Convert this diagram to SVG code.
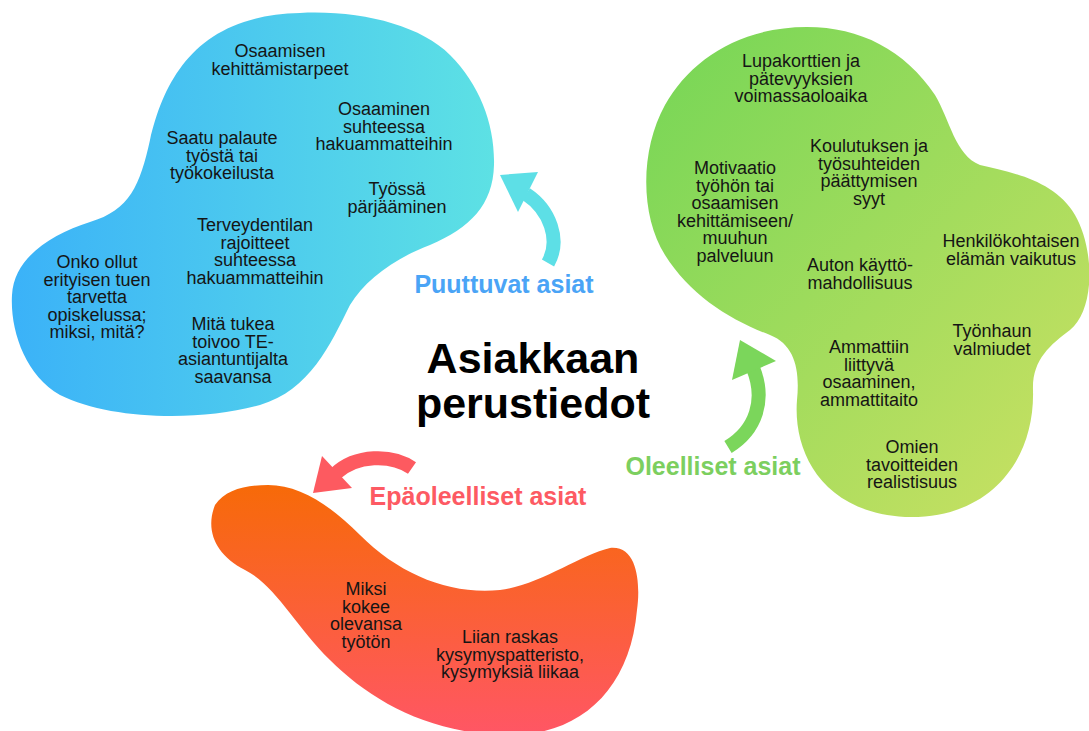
<svg xmlns="http://www.w3.org/2000/svg" width="1089" height="731" viewBox="0 0 1089 731">
<defs>
<linearGradient id="gBlue" x1="0" y1="0" x2="1" y2="0">
<stop offset="0" stop-color="#3bb2f8"/><stop offset="1" stop-color="#5de1e4"/>
</linearGradient>
<linearGradient id="gGreen" x1="0" y1="0" x2="1" y2="1">
<stop offset="0" stop-color="#74d656"/><stop offset="1" stop-color="#cde163"/>
</linearGradient>
<linearGradient id="gRed" x1="0" y1="0" x2="0" y2="1">
<stop offset="0" stop-color="#f76a08"/><stop offset="1" stop-color="#ff5665"/>
</linearGradient>
</defs>
<style>
.t{font-family:"Liberation Sans",Arial,sans-serif;font-size:18px;fill:#151515;text-anchor:middle}
.lbl{font-family:"Liberation Sans",Arial,sans-serif;font-size:25px;font-weight:bold;text-anchor:middle}
.title{font-family:"Liberation Sans",Arial,sans-serif;font-size:43px;font-weight:bold;fill:#000;text-anchor:middle}
.arc{fill:none;stroke-width:14}
</style>
<rect width="1089" height="731" fill="#fff"/>

<g id="blue-blob">
<path fill="url(#gBlue)" d="M 300 13 C 360 10, 420 25, 450 55 C 480 85, 495 125, 494 165 C 493 205, 470 228, 430 245 C 395 258, 365 280, 350 305 C 330 345, 310 390, 260 405 C 200 422, 110 420, 60 395 C 25 375, 10 330, 12 295 C 14 258, 50 235, 90 222 C 130 210, 140 185, 150 140 C 165 75, 200 15, 300 13 Z"/>
<text class="t"><tspan x="280" y="57">Osaamisen</tspan><tspan x="280" y="74.5">kehittämistarpeet</tspan></text>
<text class="t"><tspan x="384" y="115">Osaaminen</tspan><tspan x="384" y="132.5">suhteessa</tspan><tspan x="384" y="150">hakuammatteihin</tspan></text>
<text class="t"><tspan x="222" y="144">Saatu palaute</tspan><tspan x="222" y="161.5">työstä tai</tspan><tspan x="222" y="179">työkokeilusta</tspan></text>
<text class="t"><tspan x="397" y="195">Työssä</tspan><tspan x="397" y="212.5">pärjääminen</tspan></text>
<text class="t"><tspan x="255" y="231">Terveydentilan</tspan><tspan x="255" y="248.5">rajoitteet</tspan><tspan x="255" y="266">suhteessa</tspan><tspan x="255" y="283.5">hakuammatteihin</tspan></text>
<text class="t"><tspan x="97" y="268">Onko ollut</tspan><tspan x="97" y="285.5">erityisen tuen</tspan><tspan x="97" y="303">tarvetta</tspan><tspan x="97" y="320.5">opiskelussa;</tspan><tspan x="97" y="338">miksi, mitä?</tspan></text>
<text class="t"><tspan x="233" y="330">Mitä tukea</tspan><tspan x="233" y="347.5">toivoo TE-</tspan><tspan x="233" y="365">asiantuntijalta</tspan><tspan x="233" y="382.5">saavansa</tspan></text>
</g>

<g id="green-blob">
<path fill="url(#gGreen)" d="M 807 27 C 740 27, 690 60, 665 105 C 640 150, 640 215, 665 255 C 690 295, 730 320, 770 335 C 795 345, 800 370, 797 400 C 793 450, 820 512, 905 517 C 990 520, 1035 460, 1033 390 C 1032 360, 1050 345, 1070 330 C 1095 310, 1095 250, 1075 215 C 1055 180, 1010 172, 980 165 C 955 155, 950 120, 935 95 C 905 50, 860 27, 807 27 Z"/>
<text class="t"><tspan x="801" y="67">Lupakorttien ja</tspan><tspan x="801" y="84.5">pätevyyksien</tspan><tspan x="801" y="102">voimassaoloaika</tspan></text>
<text class="t"><tspan x="869" y="152">Koulutuksen ja</tspan><tspan x="869" y="169.5">työsuhteiden</tspan><tspan x="869" y="187">päättymisen</tspan><tspan x="869" y="204.5">syyt</tspan></text>
<text class="t"><tspan x="735" y="174">Motivaatio</tspan><tspan x="735" y="191.5">työhön tai</tspan><tspan x="735" y="209">osaamisen</tspan><tspan x="735" y="226.5">kehittämiseen/</tspan><tspan x="735" y="244">muuhun</tspan><tspan x="735" y="261.5">palveluun</tspan></text>
<text class="t"><tspan x="1011" y="247">Henkilökohtaisen</tspan><tspan x="1011" y="264.5">elämän vaikutus</tspan></text>
<text class="t"><tspan x="860" y="271">Auton käyttö-</tspan><tspan x="860" y="288.5">mahdollisuus</tspan></text>
<text class="t"><tspan x="992" y="337">Työnhaun</tspan><tspan x="992" y="354.5">valmiudet</tspan></text>
<text class="t"><tspan x="869" y="353">Ammattiin</tspan><tspan x="869" y="370.5">liittyvä</tspan><tspan x="869" y="388">osaaminen,</tspan><tspan x="869" y="405.5">ammattitaito</tspan></text>
<text class="t"><tspan x="912" y="453">Omien</tspan><tspan x="912" y="470.5">tavoitteiden</tspan><tspan x="912" y="488">realistisuus</tspan></text>
</g>

<g id="red-blob">
<path fill="url(#gRed)" d="M 268 485 C 300 485, 330 505, 360 535 C 400 575, 450 595, 500 590 C 540 585, 580 555, 610 548 C 640 545, 640 590, 637 610 C 630 690, 580 735, 510 735 C 430 735, 370 700, 330 660 C 295 625, 275 585, 245 570 C 215 555, 205 530, 215 505 C 225 490, 245 485, 268 485 Z"/>
<text class="t"><tspan x="366" y="595">Miksi</tspan><tspan x="366" y="612.5">kokee</tspan><tspan x="366" y="630">olevansa</tspan><tspan x="366" y="647.5">työtön</tspan></text>
<text class="t"><tspan x="510" y="643">Liian raskas</tspan><tspan x="510" y="660.5">kysymyspatteristo,</tspan><tspan x="510" y="678">kysymyksiä liikaa</tspan></text>
</g>

<g id="center">
<text class="title"><tspan x="533" y="373">Asiakkaan</tspan><tspan x="533" y="418">perustiedot</tspan></text>
</g>

<g id="connectors">
<g id="arrow-puuttuvat">
<path class="arc" stroke="#5ddfe6" d="M 526 194 C 550 210, 561 240, 548 263"/>
<polygon fill="#5ddfe6" points="500,175 538,172 518,212"/>
<text class="lbl" fill="#4aa4f6" x="504" y="293">Puuttuvat asiat</text>
</g>
<g id="arrow-oleelliset">
<path class="arc" stroke="#7bd65b" d="M 753 368 C 766 400, 756 430, 728 447"/>
<polygon fill="#7bd65b" points="740,340 776,361 732,380"/>
<text class="lbl" fill="#7ccf5f" x="713" y="475">Oleelliset asiat</text>
</g>
<g id="arrow-epaoleelliset">
<path class="arc" stroke="#fd5a60" d="M 335 474 C 356 454, 392 454, 412 468"/>
<polygon fill="#fd5a60" points="313,493 322,456 352,488"/>
<text class="lbl" fill="#fd5a63" x="478" y="505">Epäoleelliset asiat</text>
</g>
</g>
</svg>
